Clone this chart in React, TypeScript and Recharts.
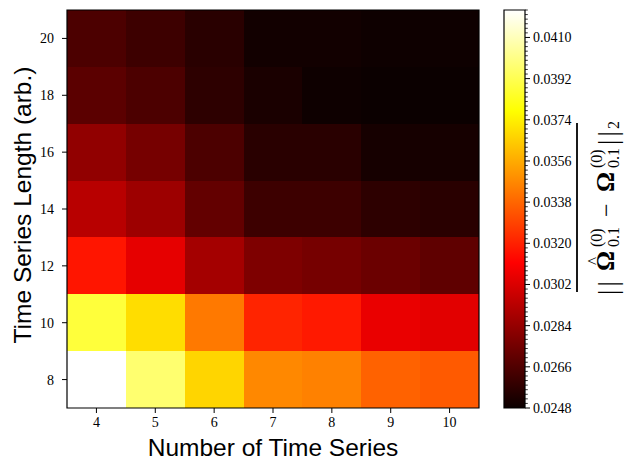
import React from "react";
import {
  ComposedChart,
  ReferenceArea,
  Scatter,
  ScatterChart,
  XAxis,
  YAxis,
} from "recharts";

// heatmap axes
const seriesCounts = [4, 5, 6, 7, 8, 9, 10];
const seriesLengths = [8, 10, 12, 14, 16, 18, 20];

// error values per time-series length (one entry per number of series)
const len8 = [0.0422, 0.0397, 0.0367, 0.0347, 0.0345, 0.0337, 0.0335];
const len10 = [0.0388, 0.0369, 0.0343, 0.0321, 0.0318, 0.0306, 0.0304];
const len12 = [0.0317, 0.0305, 0.0288, 0.0278, 0.0276, 0.0273, 0.027];
const len14 = [0.0293, 0.0286, 0.0271, 0.0261, 0.0261, 0.0257, 0.0256];
const len16 = [0.0283, 0.0276, 0.0265, 0.0256, 0.0256, 0.0251, 0.0251];
const len18 = [0.0269, 0.0265, 0.0257, 0.0252, 0.0249, 0.0248, 0.0248];
const len20 = [0.0265, 0.0261, 0.0256, 0.025, 0.025, 0.0249, 0.0249];

const rows = [len8, len10, len12, len14, len16, len18, len20];

// colorbar
const vMin = 0.0248;
const vMax = 0.0422;
const colorbarTicks = [0.0248, 0.0266, 0.0284, 0.0302, 0.032, 0.0338, 0.0356, 0.0374, 0.0392, 0.041];
const minorStep = 0.0002;

const minorTicks = colorbarTicks
  .flatMap((t) => [1, 2, 3, 4, 5, 6, 7, 8].map((k) => +(t + k * minorStep).toFixed(5)))
  .filter((t) => t <= vMax);

const allColorbarTicks = [...colorbarTicks, ...minorTicks].sort((a, b) => a - b);

const cells = rows.flatMap((vals, ri) =>
  vals.map((v, ci) => ({ x: seriesCounts[ci], y: seriesLengths[ri], value: v }))
);

const clamp = (v: number) => Math.max(0, Math.min(1, v));

// matplotlib "hot"
function hot(value: number) {
  const t = clamp((value - vMin) / (vMax - vMin));
  const r = clamp(0.0416 + (t * (1 - 0.0416)) / 0.365079);
  const g = clamp((t - 0.365079) / (0.746032 - 0.365079));
  const b = clamp((t - 0.746032) / (1 - 0.746032));
  return `rgb(${Math.round(r * 255)},${Math.round(g * 255)},${Math.round(b * 255)})`;
}

const tickFont = { fontFamily: "'Liberation Serif', serif", fontSize: 14, fill: "#000" };
const titleFont = "'Liberation Sans', Arial, sans-serif";

function Heatmap() {
  return (
    <ScatterChart width={500} height={470} margin={{ top: 10, right: 21, bottom: 0, left: 0 }}>
      <XAxis
        type="number"
        dataKey="x"
        domain={[3.5, 10.5]}
        ticks={seriesCounts}
        allowDataOverflow
        height={62}
        axisLine={false}
        tickSize={5}
        tickMargin={4}
        tickLine={{ stroke: "#000" }}
        tick={tickFont}
      />
      <YAxis
        type="number"
        dataKey="y"
        domain={[7, 21]}
        ticks={seriesLengths}
        allowDataOverflow
        width={67}
        axisLine={false}
        tickSize={5}
        tickMargin={8}
        tickLine={{ stroke: "#000" }}
        tick={tickFont}
      />
      {cells.map((c) => (
        <ReferenceArea
          key={`${c.x}-${c.y}`}
          x1={c.x - 0.5}
          x2={c.x + 0.5}
          y1={c.y - 1}
          y2={c.y + 1}
          fill={hot(c.value)}
          fillOpacity={1}
          stroke="none"
          shapeRendering="crispEdges"
        />
      ))}
      <ReferenceArea x1={3.5} x2={10.5} y1={7} y2={21} fill="none" stroke="#000" strokeWidth={1.2} />
      <Scatter data={cells} isAnimationActive={false} shape={() => <g />} />
    </ScatterChart>
  );
}

function ColorbarTick(props: any) {
  const { x, y, payload } = props;
  const v = payload.value as number;
  const major = colorbarTicks.some((t) => Math.abs(t - v) < 1e-7);
  if (!major) {
    return <line x1={x} y1={y} x2={x + 2.8} y2={y} stroke="#000" strokeWidth={0.8} />;
  }
  return (
    <g>
      <line x1={x} y1={y} x2={x + 5} y2={y} stroke="#000" strokeWidth={1} />
      <text x={x + 8} y={y} dy="0.35em" textAnchor="start" {...tickFont}>
        {v.toFixed(4)}
      </text>
    </g>
  );
}

const barData = [{ x: 0.5, v: vMin }];

function Colorbar() {
  return (
    <ComposedChart
      width={148}
      height={470}
      data={barData}
      margin={{ top: 10, right: 0, bottom: 62, left: 24 }}
    >
      <defs>
        <linearGradient id="hotGrad" x1="0" y1="1" x2="0" y2="0">
          <stop offset="0" stopColor="rgb(11,0,0)" />
          <stop offset="0.365079" stopColor="rgb(255,0,0)" />
          <stop offset="0.746032" stopColor="rgb(255,255,0)" />
          <stop offset="1" stopColor="rgb(255,255,255)" />
        </linearGradient>
      </defs>
      <XAxis type="number" dataKey="x" domain={[0, 1]} hide />
      <YAxis
        yAxisId="bar"
        orientation="right"
        type="number"
        domain={[vMin, vMax]}
        ticks={allColorbarTicks}
        interval={0}
        width={103}
        axisLine={false}
        tickLine={false}
        tickSize={0}
        tickMargin={0}
        tick={<ColorbarTick />}
      />
      <ReferenceArea
        yAxisId="bar"
        x1={0}
        x2={1}
        y1={vMin}
        y2={vMax}
        fill="url(#hotGrad)"
        fillOpacity={1}
        stroke="#000"
        strokeWidth={1.2}
      />
      <Scatter yAxisId="bar" dataKey="v" isAnimationActive={false} shape={() => <g />} />
    </ComposedChart>
  );
}

export default function App() {
  const serif = "'Liberation Serif', serif";
  return (
    <div style={{ position: "absolute", left: 0, top: 0, width: 628, height: 470, background: "#fff" }}>
      <div style={{ position: "absolute", left: 0, top: 0 }}>
        <Heatmap />
      </div>
      <div style={{ position: "absolute", left: 480, top: 0 }}>
        <Colorbar />
      </div>
      <svg
        width={628}
        height={470}
        style={{ position: "absolute", left: 0, top: 0, pointerEvents: "none" }}
      >
        <text x={273} y={456} textAnchor="middle" fontFamily={titleFont} fontSize={24.5} fill="#000">
          Number of Time Series
        </text>
        <text
          transform="translate(31,205) rotate(-90)"
          textAnchor="middle"
          fontFamily={titleFont}
          fontSize={24.5}
          fill="#000"
        >
          Time Series Length (arb.)
        </text>
        <line x1={577} y1={123} x2={577} y2={292} stroke="#000" strokeWidth={1.8} />
        <g transform="translate(614,207) rotate(-90)" fontFamily={serif} fill="#000">
          <text x={-88} y={3} fontSize={27} letterSpacing={3}>||</text>
          <text x={-64} y={0} fontSize={25} fontWeight="bold">Ω</text>
          <text x={-58} y={-15} fontSize={17}>^</text>
          <text x={-40} y={-12} fontSize={16}>(0)</text>
          <text x={-40} y={5} fontSize={16}>0.1</text>
          <text x={-10} y={0} fontSize={24}>−</text>
          <text x={15} y={0} fontSize={25} fontWeight="bold">Ω</text>
          <text x={39} y={-12} fontSize={16}>(0)</text>
          <text x={39} y={5} fontSize={16}>0.1</text>
          <text x={62} y={3} fontSize={27} letterSpacing={3}>||</text>
          <text x={78} y={5} fontSize={16}>2</text>
        </g>
      </svg>
    </div>
  );
}
